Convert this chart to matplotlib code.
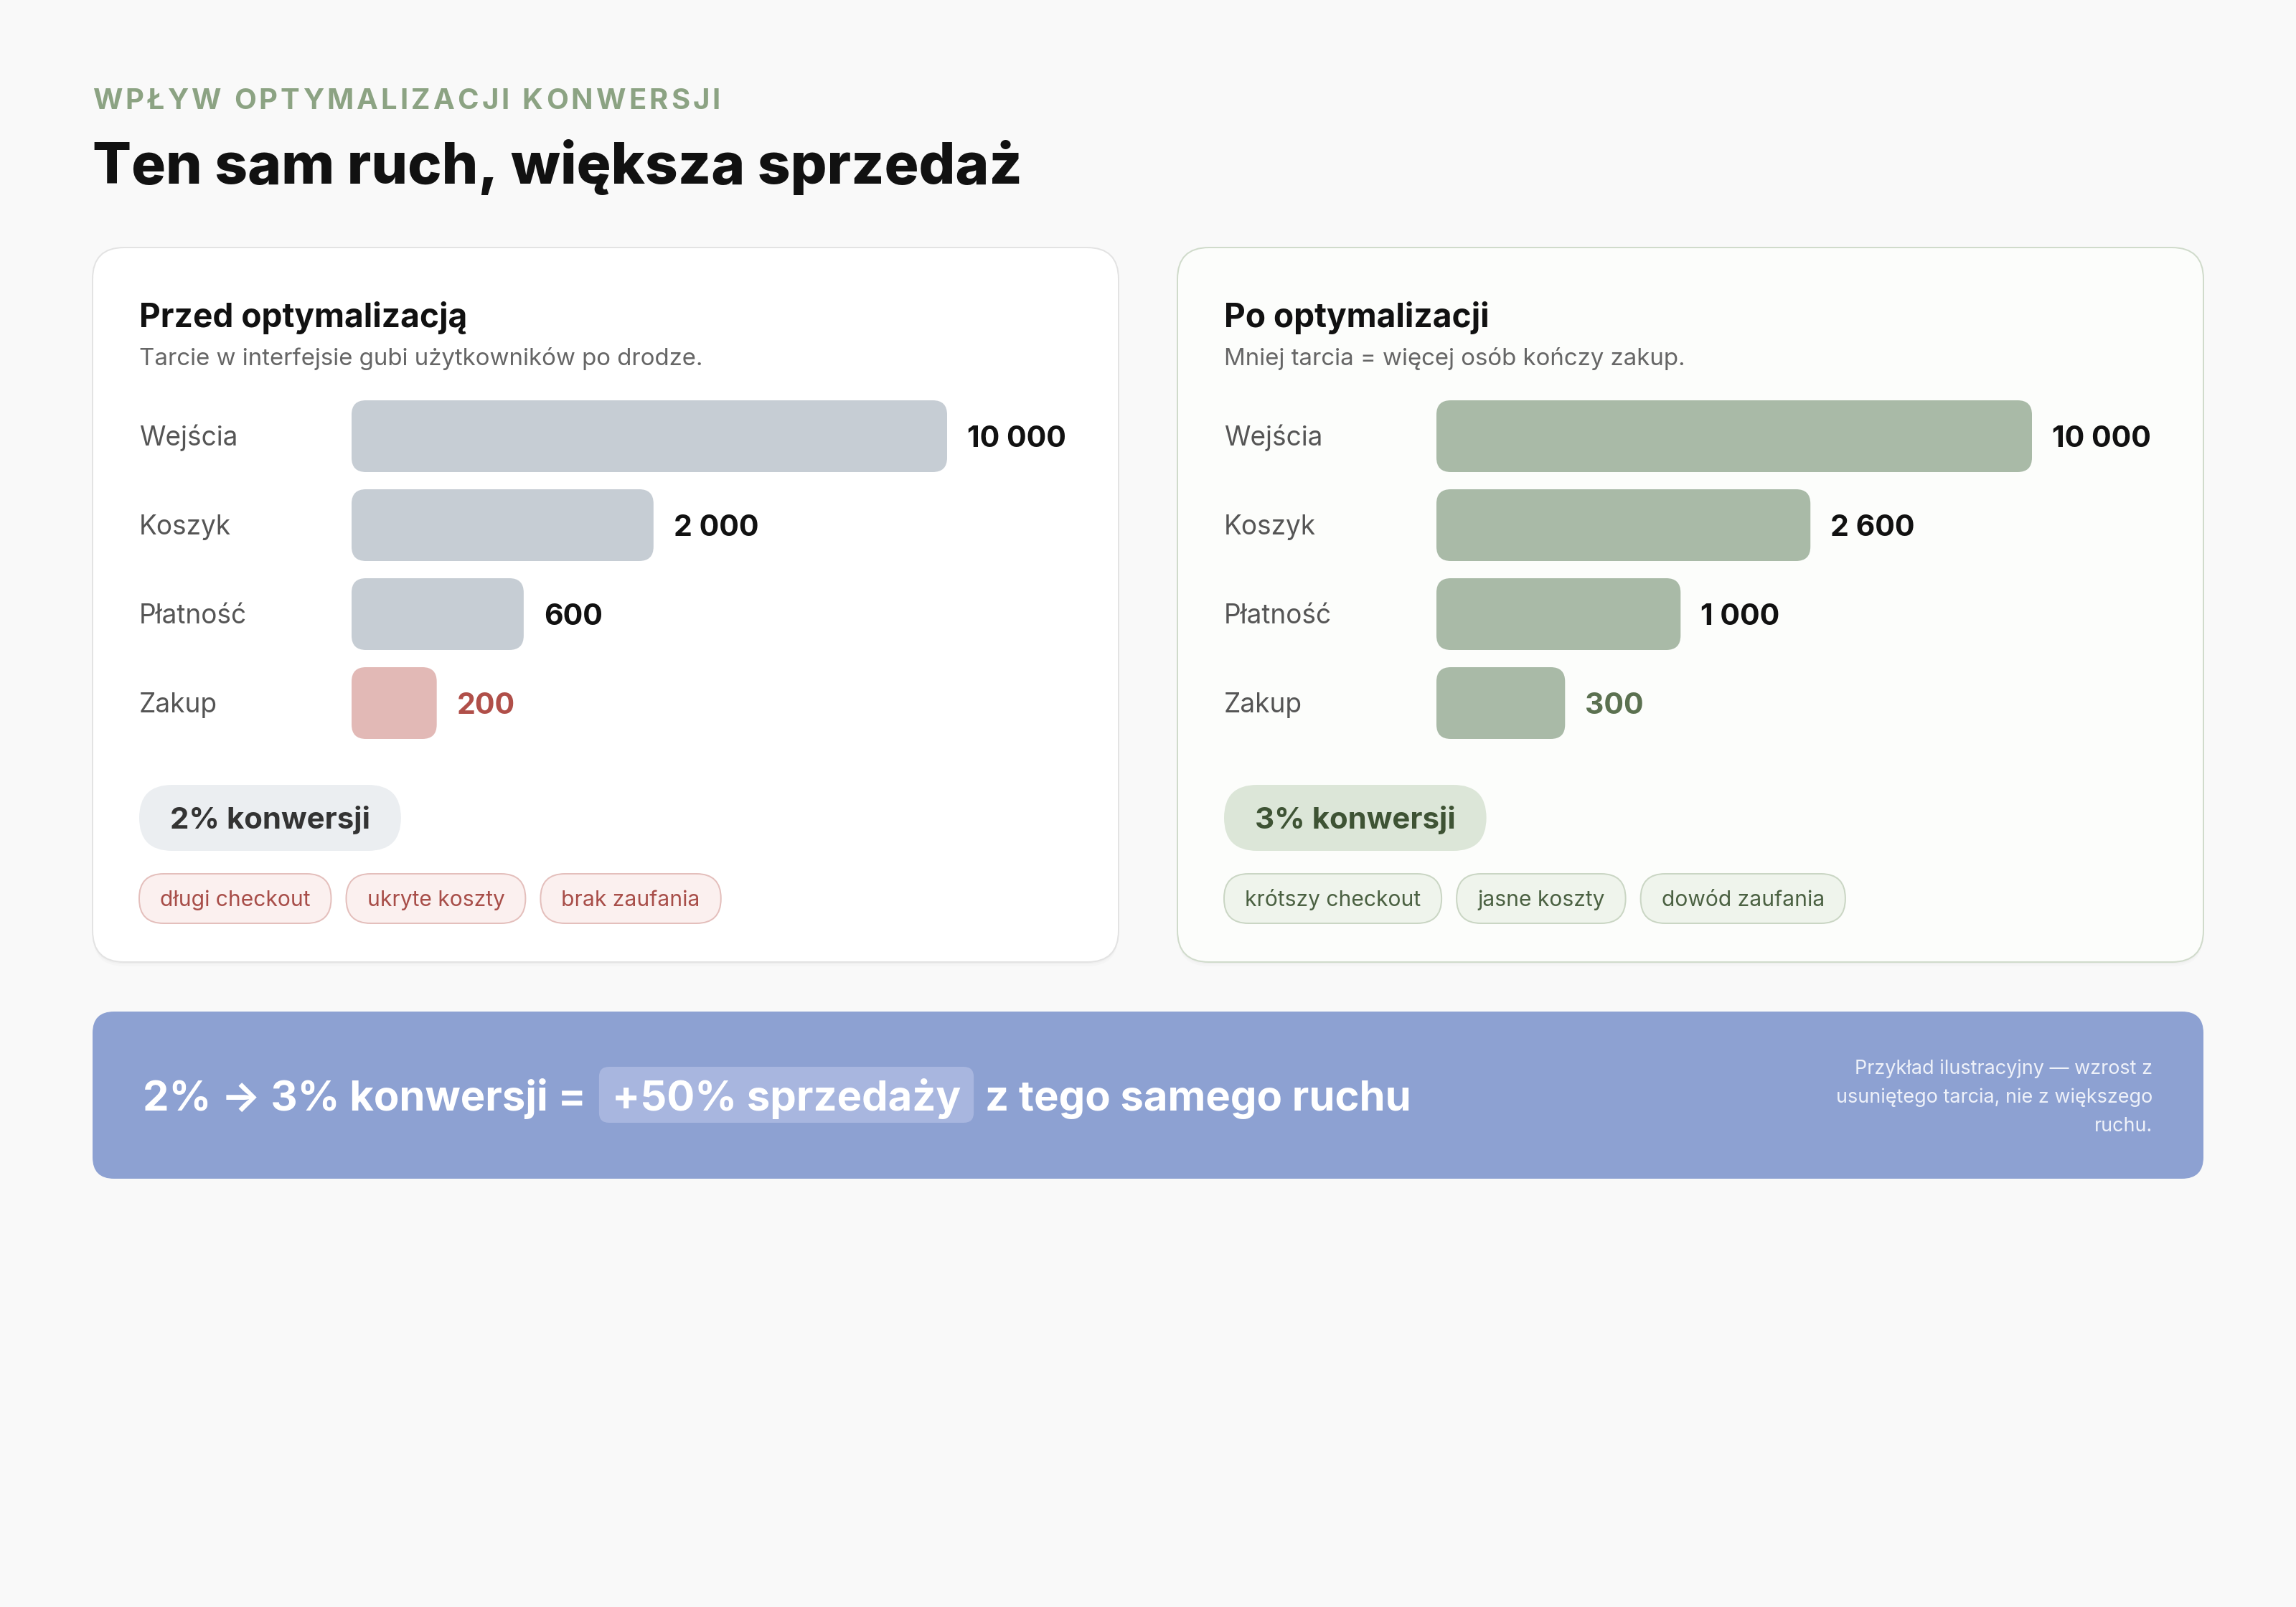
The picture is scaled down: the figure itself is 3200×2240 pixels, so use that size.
import matplotlib
matplotlib.use("Agg")
import matplotlib.pyplot as plt
import matplotlib.transforms as mtransforms
from matplotlib.patches import FancyBboxPatch
from matplotlib.font_manager import FontProperties
from matplotlib.textpath import TextToPath

# ---------------- data ----------------
eyebrow = "WPŁYW OPTYMALIZACJI KONWERSJI"
title = "Ten sam ruch, większa sprzedaż"
stages = ["Wejścia", "Koszyk", "Płatność", "Zakup"]
before_values = [10000, 2000, 600, 200]
after_values = [10000, 2600, 1000, 300]
# bar lengths as drawn (share of the longest bar, %)
before_bar_pct = [100, 50.7, 28.9, 14.3]
after_bar_pct = [100, 62.8, 41.0, 21.6]
before_title = "Przed optymalizacją"
before_subtitle = "Tarcie w interfejsie gubi użytkowników po drodze."
after_title = "Po optymalizacji"
after_subtitle = "Mniej tarcia = więcej osób kończy zakup."
before_rate = "2% konwersji"
after_rate = "3% konwersji"
before_tags = ["długi checkout", "ukryte koszty", "brak zaufania"]
after_tags = ["krótszy checkout", "jasne koszty", "dowód zaufania"]
banner_parts = ["2% → 3% konwersji =", "+50% sprzedaży", "z tego samego ruchu"]
banner_note = ["Przykład ilustracyjny — wzrost z",
               "usuniętego tarcia, nie z większego",
               "ruchu."]

W, H, DPI = 3200, 2240, 200
FAM = ["Inter", "DejaVu Sans"]
CAP = 0.727


def pt(px):
    return px * 72.0 / DPI


fig = plt.figure(figsize=(W / DPI, H / DPI), dpi=DPI, facecolor="#F9F9F9")
bg = fig.add_axes([0, 0, 1, 1], zorder=0)
bg.set_xlim(0, W)
bg.set_ylim(H, 0)
bg.axis("off")
renderer = fig.canvas.get_renderer()


def text(x, y, s, px, color, weight="normal", ha="left", ax=None, transform=None, **kw):
    ax = ax or bg
    return ax.text(x, y, s, fontsize=pt(px), color=color, fontweight=weight, ha=ha,
                   va="baseline", family=FAM,
                   transform=transform if transform is not None else ax.transData, **kw)


def twidth(t):
    return t.get_window_extent(renderer=renderer).width


def ctext(x, yc, s, px, color, weight="normal", ha="left", **kw):
    """text whose cap-height centre sits at yc (bg pixel coords)"""
    return text(x, yc + CAP * px / 2, s, px, color, weight, ha, **kw)


def rbox(x, y, w, h, r, fc, ec="none", lw=0.0, z=1, alpha=1.0):
    p = FancyBboxPatch((x, y), w, h, boxstyle=f"round,pad=0,rounding_size={r}",
                       fc=fc, ec=ec, lw=lw, zorder=z, alpha=alpha)
    bg.add_patch(p)
    return p


# ---------------- header ----------------
def spaced(x, y, s, px, color, weight, target_w):
    prop = FontProperties(family=FAM, weight=weight, size=pt(px))
    ttp = TextToPath()
    ws = [ttp.get_text_width_height_descent(c, prop, ismath=False)[0] * DPI / 72 for c in s]
    gap = (target_w - sum(ws)) / (len(s) - 1)
    cx = x
    for c, w in zip(s, ws):
        text(cx, y, c, px, color, weight)
        cx += w + gap


spaced(129, 152, eyebrow, 40, "#8CA383", "bold", 875)

t = text(129, 256, title, 86, "#111111", 800)
t.set_fontsize(t.get_fontsize() * 1296 / twidth(t))

# ---------------- cards ----------------
CARD_Y, CARD_H, CARD_W, CARD_R = 345, 996, 1430, 44
cards = [
    dict(x=129, fc="#FFFFFF", ec="#E3E3E3"),
    dict(x=1641, fc="#FCFDFB", ec="#D0DBCB"),
]
for c in cards:
    for off, a in [(6, 0.015), (3, 0.02)]:
        rbox(c["x"], CARD_Y + off, CARD_W, CARD_H, CARD_R, "#000000", z=1, alpha=a)
    rbox(c["x"], CARD_Y, CARD_W, CARD_H, CARD_R, c["fc"], c["ec"], lw=pt(2), z=2)

ROW_PITCH, BAR_PX, FIRST_C, BAR_LEN_PX = 124, 100, 608, 830


def panel(card_x, ttl, sub, values, pcts, bar_colors, val_colors, rate, rate_bg, rate_fg,
          tags, tag_bg, tag_ec, tag_fg):
    cx = card_x + 65
    text(cx, 456, ttl, 46, "#111111", "bold", zorder=5)
    text(cx, 509, sub, 33, "#666666", zorder=5)

    top = FIRST_C - ROW_PITCH / 2
    bottom = top + ROW_PITCH * len(values)
    bar_left = card_x + 361
    ax = fig.add_axes([bar_left / W, 1 - bottom / H, BAR_LEN_PX / W, (bottom - top) / H], zorder=3)
    ax.set_xlim(0, 100)
    ax.set_ylim(len(values) - 0.5, -0.5)
    ax.axis("off")
    ax.patch.set_alpha(0)
    bars = ax.barh(range(len(values)), pcts, height=BAR_PX / ROW_PITCH, color=bar_colors)
    xu = 100 / BAR_LEN_PX
    yu = 1 / ROW_PITCH
    r_px = 20
    for b in bars:
        b.set_visible(False)
        p = FancyBboxPatch((b.get_x(), b.get_y()), b.get_width(), b.get_height(),
                           boxstyle=f"round,pad=0,rounding_size={r_px * xu}",
                           mutation_aspect=yu / xu, fc=b.get_facecolor(), ec="none")
        ax.add_patch(p)

    lab_px, val_px = 37, 41
    lab_tr = mtransforms.blended_transform_factory(bg.transData, ax.transData) + \
        mtransforms.ScaledTranslation(0, -CAP * lab_px / 2 / DPI, fig.dpi_scale_trans)
    val_tr = ax.transData + mtransforms.ScaledTranslation(
        28 / DPI, -CAP * val_px / 2 / DPI, fig.dpi_scale_trans)
    for i, (name, v, p, vc) in enumerate(zip(stages, values, pcts, val_colors)):
        ax.text(cx, i, name, fontsize=pt(lab_px), color="#555555", family=FAM,
                va="baseline", ha="left", transform=lab_tr)
        ax.text(p, i, f"{v:,}".replace(",", " "), fontsize=pt(val_px), color=vc,
                family=FAM, fontweight="bold", va="baseline", ha="left", transform=val_tr)

    # conversion pill
    pill_px = 42
    tp = ctext(0, 1140, rate, pill_px, rate_fg, "bold", zorder=6)
    tw = twidth(tp)
    pad = 43
    rbox(cx, 1094, tw + 2 * pad, 92, 46, rate_bg, z=4)
    tp.set_x(cx + pad)

    # tags
    x = cx
    for tg in tags:
        tt = ctext(0, 1252, tg, 30, tag_fg, zorder=6)
        tw = twidth(tt)
        rbox(x, 1218, tw + 58, 69, 34, tag_bg, tag_ec, lw=pt(2), z=4)
        tt.set_x(x + 29)
        x += tw + 58 + 21


panel(129, before_title, before_subtitle, before_values, before_bar_pct,
      ["#C6CDD4", "#C6CDD4", "#C6CDD4", "#E2B9B6"],
      ["#111111", "#111111", "#111111", "#B04F49"],
      before_rate, "#EBEEF1", "#333333",
      before_tags, "#FBF0EF", "#E4BFBC", "#A84E49")

panel(1641, after_title, after_subtitle, after_values, after_bar_pct,
      ["#A9BAA7"] * 4,
      ["#111111", "#111111", "#111111", "#5B7150"],
      after_rate, "#DCE6D8", "#3E5334",
      after_tags, "#EFF4EC", "#CAD6C4", "#4B6142")

# ---------------- banner ----------------
rbox(129, 1410, 2942, 233, 30, "#8DA1D2", z=2)
bpx = 58
yc = 1527
t1 = ctext(199, yc, banner_parts[0], bpx, "white", "bold", zorder=6)
x = 199 + twidth(t1) + 18
t2 = ctext(x + 18, yc, banner_parts[1], bpx, "white", "bold", zorder=6)
w2 = twidth(t2)
rbox(x, 1487, w2 + 36, 78, 14, "#A8B6DF", z=4)
x = x + w2 + 36 + 16
ctext(x, yc, banner_parts[2], bpx, "white", "bold", zorder=6)

for i, line in enumerate(banner_note):
    text(3000, 1497 + 40 * i, line, 27, "#EEF1F9", ha="right", zorder=6)

fig.savefig("out.png", dpi=DPI, facecolor=fig.get_facecolor())
